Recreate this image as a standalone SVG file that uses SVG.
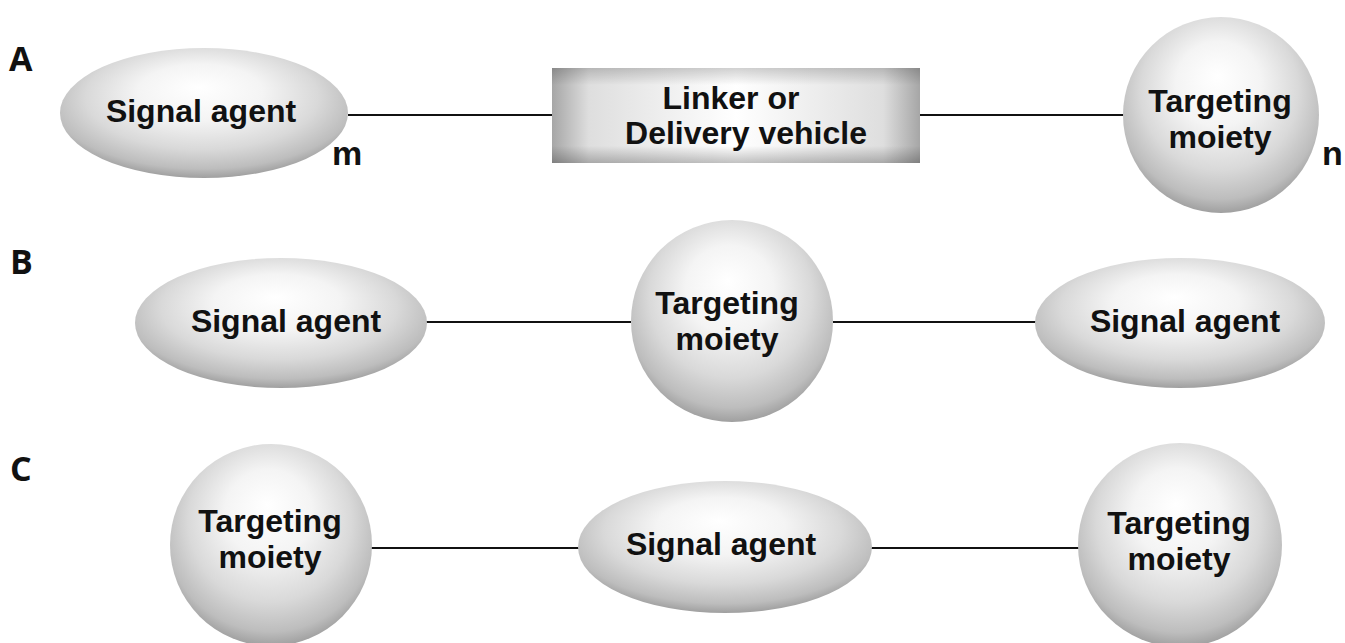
<svg xmlns="http://www.w3.org/2000/svg" width="1345" height="643" viewBox="0 0 1345 643">
  <defs>
    <!-- shaded sphere / lozenge fill: bright highlight above centre, grey rim -->
    <radialGradient id="ball" cx="0.5" cy="0.42" r="0.62" fx="0.48" fy="0.3">
      <stop offset="0" stop-color="#ffffff"/>
      <stop offset="0.35" stop-color="#f4f4f4"/>
      <stop offset="0.65" stop-color="#d9d9d9"/>
      <stop offset="0.85" stop-color="#bdbdbd"/>
      <stop offset="1" stop-color="#8f8f8f"/>
    </radialGradient>
    <!-- bar fill: grey sides fading to white middle -->
    <linearGradient id="barH" x1="0" y1="0" x2="1" y2="0">
      <stop offset="0" stop-color="#a6a6a6"/>
      <stop offset="0.1" stop-color="#dedede"/>
      <stop offset="0.5" stop-color="#ffffff"/>
      <stop offset="0.9" stop-color="#dedede"/>
      <stop offset="1" stop-color="#a6a6a6"/>
    </linearGradient>
    <linearGradient id="barV" x1="0" y1="0" x2="0" y2="1">
      <stop offset="0" stop-color="#000" stop-opacity="0.18"/>
      <stop offset="0.18" stop-color="#000" stop-opacity="0"/>
      <stop offset="0.82" stop-color="#000" stop-opacity="0"/>
      <stop offset="1" stop-color="#000" stop-opacity="0.24"/>
    </linearGradient>
  </defs>
  <style>
    .shape { fill: url(#ball); }
    .lbl { font-family: "Liberation Sans", Arial, sans-serif; font-weight: bold; font-size: 32px; fill: #111; text-anchor: middle; }
    .idx { font-family: "Liberation Sans", Arial, sans-serif; font-weight: bold; font-size: 34px; fill: #111; }
    .panel { font-family: "Open Sans", "Liberation Sans", sans-serif; font-weight: bold; font-size: 34px; fill: #111; }
    .link { stroke: #111; stroke-width: 2; fill: none; }
  </style>

  <rect width="1345" height="643" fill="#ffffff"/>

  <!-- panel letters -->
  <text class="panel" x="9" y="71">A</text>
  <text class="panel" x="10" y="274">B</text>
  <text class="panel" x="10" y="481">C</text>

  <!-- connectors -->
  <g id="connectors">
    <line class="link" x1="348" y1="115" x2="553" y2="115"/>
    <line class="link" x1="920" y1="115" x2="1124" y2="115"/>
    <line class="link" x1="426" y1="322" x2="631" y2="322"/>
    <line class="link" x1="833" y1="322" x2="1036" y2="322"/>
    <line class="link" x1="371" y1="548" x2="579" y2="548"/>
    <line class="link" x1="871" y1="548" x2="1079" y2="548"/>
  </g>

  <!-- row A -->
  <g id="a-signal">
    <ellipse class="shape" cx="204" cy="113" rx="144" ry="65"/>
    <text class="lbl" x="201" y="122">Signal agent</text>
    <text class="idx" x="332" y="165">m</text>
  </g>
  <g id="a-linker">
    <rect x="552" y="68" width="368" height="95" fill="url(#barH)"/>
    <rect x="552" y="68" width="368" height="95" fill="url(#barV)"/>
    <text class="lbl" x="731" y="109">Linker or</text>
    <text class="lbl" x="746" y="144">Delivery vehicle</text>
  </g>
  <g id="a-target">
    <circle class="shape" cx="1221" cy="115" r="98"/>
    <text class="lbl" x="1220" y="112">Targeting</text>
    <text class="lbl" x="1220" y="148">moiety</text>
    <text class="idx" x="1322" y="165">n</text>
  </g>

  <!-- row B -->
  <g id="b-signal-left">
    <ellipse class="shape" cx="281" cy="323" rx="146" ry="65"/>
    <text class="lbl" x="286" y="332">Signal agent</text>
  </g>
  <g id="b-target">
    <circle class="shape" cx="732" cy="321" r="101"/>
    <text class="lbl" x="727" y="314">Targeting</text>
    <text class="lbl" x="727" y="350">moiety</text>
  </g>
  <g id="b-signal-right">
    <ellipse class="shape" cx="1180" cy="323" rx="145" ry="65"/>
    <text class="lbl" x="1185" y="332">Signal agent</text>
  </g>

  <!-- row C -->
  <g id="c-target-left">
    <circle class="shape" cx="271" cy="545" r="101"/>
    <text class="lbl" x="270" y="532">Targeting</text>
    <text class="lbl" x="270" y="568">moiety</text>
  </g>
  <g id="c-signal">
    <ellipse class="shape" cx="725" cy="547" rx="147" ry="66"/>
    <text class="lbl" x="721" y="555">Signal agent</text>
  </g>
  <g id="c-target-right">
    <circle class="shape" cx="1180" cy="545" r="102"/>
    <text class="lbl" x="1179" y="534">Targeting</text>
    <text class="lbl" x="1179" y="570">moiety</text>
  </g>
</svg>
